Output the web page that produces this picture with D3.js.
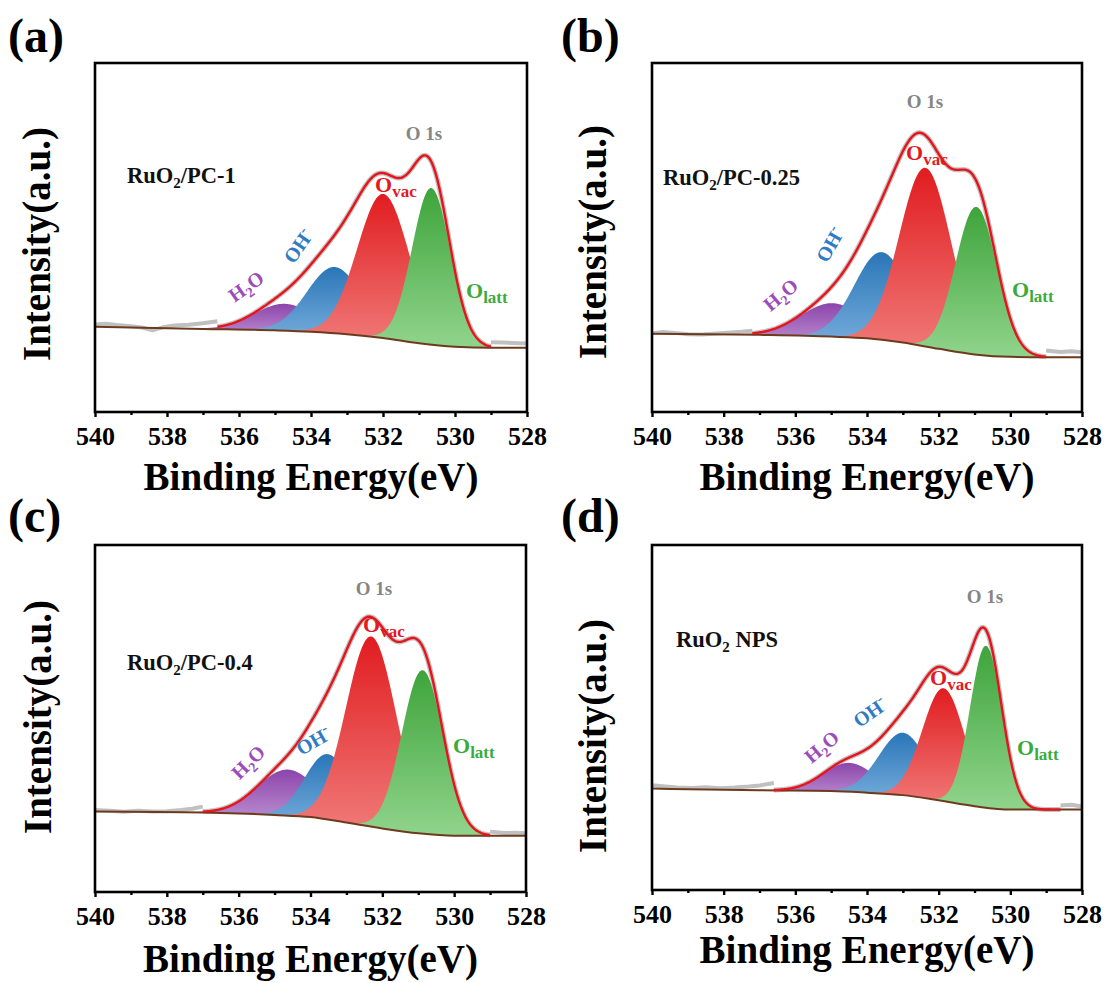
<!DOCTYPE html>
<html>
<head>
<meta charset="utf-8">
<script src="https://cdn.jsdelivr.net/npm/d3@7"></script>
<style>
    body { margin: 0; background: #fff; }
    svg text { font-family: "Liberation Serif", "Times New Roman", serif; font-weight: bold; }
</style>
</head>
<body>
<svg id="chart" width="1110" height="983"></svg>
<script>
// === Data ===
const panelLetters = ["(a)", "(b)", "(c)", "(d)"];
const sampleNames = ["RuO2/PC-1", "RuO2/PC-0.25", "RuO2/PC-0.4", "RuO2 NPS"];
const components = ["H2O", "OH-", "Ovac", "Olatt"];
const xTicks = [540, 538, 536, 534, 532, 530, 528];
const xMinorTicks = [539, 537, 535, 533, 531, 529];

// fitted peak parameters per panel: [H2O, OH-, Ovac, Olatt]
const peakCenters = [
    [534.72, 533.34, 531.99, 530.66],
    [534.96, 533.58, 532.37, 530.95],
    [534.62, 533.51, 532.31, 530.88],
    [534.49, 532.99, 531.86, 530.68]
];
const peakHeights = [
    [7.7, 19.0, 41.3, 44.8],
    [9.6, 25.2, 51.2, 42.3],
    [13.3, 18.9, 54.8, 47.1],
    [8.4, 18.1, 32.7, 46.8]
];
const peakFwhm = [
    [2.0, 1.8, 1.7, 1.25],
    [2.1, 1.8, 1.7, 1.35],
    [2.0, 1.5, 1.65, 1.35],
    [1.7, 1.6, 1.4, 1.05]
];

// Shirley-like background
const baselineEV = [540, 537, 535, 534, 533, 532, 531, 530, 529, 528];
const baselineValues = [
    [24.4, 23.8, 23.4, 23.0, 22.3, 21.2, 19.7, 18.7, 18.4, 18.4],
    [22.4, 22.1, 21.6, 21.1, 19.9, 18.1, 16.5, 15.8, 15.7, 15.7],
    [23.2, 22.9, 22.2, 21.6, 20.0, 18.3, 16.9, 16.2, 16.2, 16.2],
    [29.4, 28.9, 28.7, 28.2, 27.5, 26.0, 24.3, 23.3, 23.3, 23.3]
];

// range over which the envelope (red) is drawn
const fitRanges = [[536.6, 529.0], [537.2, 529.0], [537.0, 529.0], [536.6, 528.6]];

// raw data outside the fitted range
const rawLeft = [
    [[540, 25.1], [539.7, 25.3], [539.4, 24.9], [539, 24.6], [538.7, 24.2], [538.4, 23.4], [538.1, 24.3], [537.8, 24.8], [537.4, 25.0], [537, 25.4], [536.6, 26.0]],
    [[540, 22.6], [539.7, 22.9], [539.3, 22.6], [539, 22.3], [538.6, 22.2], [538.2, 22.5], [537.8, 22.8], [537.5, 23.0], [537.2, 23.3]],
    [[540, 23.6], [539.6, 23.4], [539.2, 23.1], [538.8, 23.4], [538.4, 23.2], [538, 23.3], [537.6, 23.6], [537.3, 24.0], [537, 24.6]],
    [[540, 30.4], [539.7, 30.1], [539.3, 29.7], [538.9, 29.6], [538.5, 29.8], [538.1, 29.5], [537.7, 29.7], [537.3, 30.0], [537, 30.3], [536.6, 31.0]]
];
const rawRight = [
    [[529.0, 20.0], [528.7, 19.9], [528.4, 19.8], [528.0, 19.6]],
    [[529.0, 17.6], [528.6, 17.2], [528.3, 17.4], [528.0, 17.1]],
    [[529.0, 17.4], [528.6, 17.0], [528.3, 17.1], [528.0, 16.9]],
    [[528.6, 24.5], [528.3, 24.7], [528.0, 24.2]]
];

// === Layout / style ===
const frames = [
    {x0: 95, x1: 527, y0: 63, y1: 412, title: 490},
    {x0: 652, x1: 1082, y0: 63, y1: 412, title: 490},
    {x0: 95, x1: 526, y0: 545, y1: 892, title: 972},
    {x0: 652, x1: 1082, y0: 545, y1: 890, title: 963}
];
const letterPos = [[8, 52], [561, 52], [8, 532], [561, 532]];
const yTitlePos = [[50, 244], [606, 242], [51, 717], [606, 736]];

// label offsets relative to the frame corner
const labelPos = [
    {name: [32, 120], o1s: [329, 77], ovac: [280, 129], oh: [209, 187, -55], h2o: [155, 229, -35], olatt: [371, 235]},
    {name: [11, 122], o1s: [273, 45], ovac: [254, 97], oh: [184, 185, -60], h2o: [133, 237, -40], olatt: [360, 234]},
    {name: [32, 125], o1s: [279, 50], ovac: [268, 87], oh: [222, 202, -30], h2o: [158, 222, -45], olatt: [358, 208]},
    {name: [24, 102], o1s: [333, 58], ovac: [278, 140], oh: [222, 173, -35], h2o: [174, 207, -40], olatt: [365, 210]}
];

const fillTop = ["#8c45ab", "#2a76b8", "#e11c20", "#3ea43b"];
const fillBottom = ["#c9a4dc", "#7fb3e0", "#f07c7a", "#90d48c"];
const textColor = ["#9b4cba", "#2f7cc4", "#e3191f", "#3aab3a"];

const svg = d3.select("#chart");
const defs = svg.append("defs");

const gauss = (e, c, h, w) => h * Math.exp(-4 * Math.LN2 * ((e - c) / w) ** 2);
const grid = d3.range(528, 540.0001, 0.02);

frames.forEach((f, i) => {
    const x = d3.scaleLinear().domain([540, 528]).range([f.x0, f.x1]);
    const y = d3.scaleLinear().domain([0, 100]).range([f.y1, f.y0]);
    const base = d3.scaleLinear().domain(baselineEV).range(baselineValues[i]);

    const envelope = e => base(e) + d3.sum(components, (c, k) =>
        gauss(e, peakCenters[i][k], peakHeights[i][k], peakFwhm[i][k]));

    const g = svg.append("g");

    const line = d3.line().x(d => x(d[0])).y(d => y(d[1]));
    const fitPts = grid.filter(e => e <= fitRanges[i][0] && e >= fitRanges[i][1])
        .map(e => [e, envelope(e)]);

    // raw data (grey) - halo under the envelope plus tails
    g.append("path").attr("d", line(fitPts))
        .attr("fill", "none").attr("stroke", "#c3c3c3").attr("stroke-width", 5);
    [rawLeft[i], rawRight[i]].forEach(pts => {
        g.append("path").attr("d", line(pts))
            .attr("fill", "none").attr("stroke", "#c0c0c0").attr("stroke-width", 4)
            .attr("stroke-linejoin", "round");
    });

    // fitted components
    components.forEach((c, k) => {
        const id = `grad-${i}-${k}`;
        const grad = defs.append("linearGradient").attr("id", id)
            .attr("x1", 0).attr("y1", 0).attr("x2", 0).attr("y2", 1);
        grad.append("stop").attr("offset", "0%").attr("stop-color", fillTop[k]);
        grad.append("stop").attr("offset", "100%").attr("stop-color", fillBottom[k]);

        const cen = peakCenters[i][k], w = peakFwhm[i][k], h = peakHeights[i][k];
        const pts = grid.filter(e => Math.abs(e - cen) < 2.6 * w);
        const area = d3.area()
            .x(e => x(e))
            .y0(e => y(base(e)))
            .y1(e => y(base(e) + gauss(e, cen, h, w)));
        g.append("path").attr("d", area(pts)).attr("fill", `url(#${id})`);
    });

    // background
    g.append("path")
        .attr("d", d3.line().curve(d3.curveMonotoneX).x((e, j) => x(e)).y((e, j) => y(baselineValues[i][j]))(baselineEV))
        .attr("fill", "none").attr("stroke", "#6e3a1e").attr("stroke-width", 2);

    // envelope
    g.append("path").attr("d", line(fitPts))
        .attr("fill", "none").attr("stroke", "#e8141b").attr("stroke-width", 2.4);

    // frame
    g.append("rect")
        .attr("x", f.x0).attr("y", f.y0)
        .attr("width", f.x1 - f.x0).attr("height", f.y1 - f.y0)
        .attr("fill", "none").attr("stroke", "#000").attr("stroke-width", 2.6);

    // axes
    const xAxis = d3.axisBottom(x).tickValues(xTicks).tickSize(5).tickPadding(10)
        .tickFormat(d3.format("d"));
    const ax = g.append("g").attr("transform", `translate(0, ${f.y1})`).call(xAxis);
    ax.select(".domain").remove();
    ax.selectAll("line").attr("stroke-width", 2.4);
    ax.selectAll("text").attr("font-size", 26).attr("fill", "#000");

    const minor = g.append("g").attr("transform", `translate(0, ${f.y1})`)
        .call(d3.axisBottom(x).tickValues(xMinorTicks).tickSize(3).tickFormat(""));
    minor.select(".domain").remove();
    minor.selectAll("line").attr("stroke-width", 2.4);

    // axis titles
    g.append("text")
        .attr("x", (f.x0 + f.x1) / 2).attr("y", f.title)
        .attr("text-anchor", "middle").attr("font-size", 39)
        .text("Binding Energy(eV)");
    g.append("text")
        .attr("transform", `translate(${yTitlePos[i][0]}, ${yTitlePos[i][1]}) rotate(-90)`)
        .attr("text-anchor", "middle").attr("font-size", 39)
        .text("Intensity(a.u.)");

    // panel letter
    g.append("text").attr("x", letterPos[i][0]).attr("y", letterPos[i][1])
        .attr("font-size", 48).text(panelLetters[i]);

    // sample name with subscript 2
    const lp = labelPos[i];
    const nameParts = sampleNames[i].split("O2");
    const nm = g.append("text").attr("x", f.x0 + lp.name[0]).attr("y", f.y0 + lp.name[1])
        .attr("font-size", 22.5).attr("fill", "#111");
    nm.append("tspan").text(nameParts[0] + "O");
    nm.append("tspan").attr("font-size", 15).attr("dy", 5).text("2");
    nm.append("tspan").attr("dy", -5).text(nameParts[1]);

    // O 1s
    g.append("text").attr("x", f.x0 + lp.o1s[0]).attr("y", f.y0 + lp.o1s[1])
        .attr("text-anchor", "middle").attr("font-size", 19).attr("fill", "#858585")
        .text("O 1s");

    // component labels
    const sub = (pos, main, small, color) => {
        const t = g.append("text").attr("x", f.x0 + pos[0]).attr("y", f.y0 + pos[1])
            .attr("font-size", 22).attr("fill", color);
        t.append("tspan").text(main);
        t.append("tspan").attr("font-size", 17).attr("dy", 5).text(small);
    };
    sub(lp.ovac, "O", "vac", textColor[2]);
    sub(lp.olatt, "O", "latt", textColor[3]);

    const oh = g.append("text")
        .attr("transform", `translate(${f.x0 + lp.oh[0]}, ${f.y0 + lp.oh[1]}) rotate(${lp.oh[2]})`)
        .attr("text-anchor", "middle").attr("font-size", 20).attr("fill", textColor[1]);
    oh.append("tspan").text("OH");
    oh.append("tspan").attr("font-size", 15).attr("dy", -8).text("-");

    const h2o = g.append("text")
        .attr("transform", `translate(${f.x0 + lp.h2o[0]}, ${f.y0 + lp.h2o[1]}) rotate(${lp.h2o[2]})`)
        .attr("text-anchor", "middle").attr("font-size", 20).attr("fill", textColor[0]);
    h2o.append("tspan").text("H");
    h2o.append("tspan").attr("font-size", 14).attr("dy", 5).text("2");
    h2o.append("tspan").attr("dy", -5).text("O");
});
</script>
</body>
</html>
